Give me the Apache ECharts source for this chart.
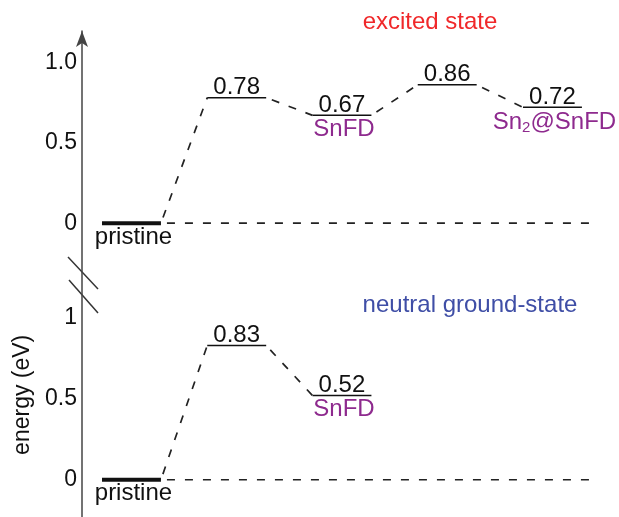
<!DOCTYPE html>
<html>
<head>
<meta charset="utf-8">
<style>
  html, body { margin: 0; padding: 0; background: #fff; }
  #chart { width: 619px; height: 517px; }
</style>
<script src="https://cdn.jsdelivr.net/npm/echarts@6/dist/echarts.min.js"></script>
</head>
<body>
<div id="chart"></div>
<script>
// excited state levels
const excitedPos = [1, 2, 3, 4, 5];
const excitedValues = [0, 0.78, 0.67, 0.86, 0.72];
const excitedNames = ['pristine', '', 'SnFD', '', 'Sn{sub|2}@SnFD'];
// neutral ground-state levels
const groundPos = [1, 2, 3];
const groundValues = [0, 0.83, 0.52];
const groundNames = ['pristine', '', 'SnFD'];
// y tick labels
const topTickValues = [0, 0.5, 1];
const topTickLabels = ['0', '0.5', '1.0'];
const bottomTickValues = [0, 0.5, 1];
const bottomTickLabels = ['0', '0.5', '1'];
// where the dashed zero line stops
const zeroLineEnd = 5.39;

const HW = 0.28; // half width of a level
const FONT = '"Liberation Sans", Arial, sans-serif';
const PURPLE = '#8e2a8e';

function levelSeries(idx, pos, values, names) {
  return {
    type: 'custom',
    xAxisIndex: idx,
    yAxisIndex: idx,
    silent: true,
    data: pos.map((p, i) => [p, values[i], i]),
    renderItem: function (params, api) {
      const x = api.value(0), v = api.value(1), i = api.value(2);
      const a = api.coord([x - HW, v]);
      const b = api.coord([x + HW, v]);
      const cx = (a[0] + b[0]) / 2;
      const first = i === 0;
      const children = [{
        type: 'line',
        shape: { x1: a[0], y1: a[1], x2: b[0], y2: b[1] },
        style: { stroke: '#111', lineWidth: first ? 4 : 1.5 }
      }];
      if (!first) {
        children.push({
          type: 'text', x: cx, y: a[1] + 2,
          style: { text: v.toFixed(2), fill: '#111', fontSize: 24, fontFamily: FONT, align: 'center', verticalAlign: 'bottom' }
        });
      }
      if (names[i]) {
        children.push({
          type: 'text', x: cx + 2, y: a[1] + 2,
          style: {
            text: names[i], fill: first ? '#111' : PURPLE, fontSize: 24, fontFamily: FONT,
            align: 'center', verticalAlign: 'top',
            rich: { sub: { fontSize: 15, fontFamily: FONT, fill: PURPLE, padding: [11, 0, 0, 0] } }
          }
        });
      }
      return { type: 'group', children: children };
    }
  };
}

function connectorSeries(idx, pos, values) {
  const segs = [];
  for (let i = 0; i < pos.length - 1; i++) {
    segs.push([pos[i] + HW, values[i], pos[i + 1] - HW, values[i + 1]]);
  }
  segs.push([pos[0] + HW, values[0], zeroLineEnd, values[0]]);
  return {
    type: 'custom',
    xAxisIndex: idx,
    yAxisIndex: idx,
    silent: true,
    data: segs,
    renderItem: function (params, api) {
      const a = api.coord([api.value(0), api.value(1)]);
      const b = api.coord([api.value(2), api.value(3)]);
      return {
        type: 'line',
        shape: { x1: a[0], y1: a[1], x2: b[0], y2: b[1] },
        style: { stroke: '#222', lineWidth: 1.7, lineDash: [8, 10], lineDashOffset: -6 }
      };
    }
  };
}

function yAxis(idx, min, max, vals, labels, extra) {
  return Object.assign({
    gridIndex: idx,
    type: 'value',
    min: min,
    max: max,
    axisLine: { show: true, lineStyle: { color: '#444', width: 1.5 } },
    axisTick: { show: false },
    splitLine: { show: false },
    axisLabel: {
      customValues: vals,
      formatter: v => labels[vals.indexOf(v)],
      fontSize: 23,
      fontFamily: FONT,
      color: '#111',
      margin: 5
    }
  }, extra);
}

const chart = echarts.init(document.getElementById('chart'));
chart.setOption({
  animation: false,
  grid: [
    { left: 82, top: 31, width: 533.6, height: 240.5 },
    { left: 82, top: 272.6, width: 533.6, height: 244.6 }
  ],
  xAxis: [
    { gridIndex: 0, type: 'value', min: 0.53, max: 5.6, show: false },
    { gridIndex: 1, type: 'value', min: 0.53, max: 5.6, show: false }
  ],
  yAxis: [
    yAxis(0, -0.3, 1.194, topTickValues, topTickLabels, {
      axisLine: { show: true, symbol: ['none', 'arrow'], symbolSize: [9, 16], lineStyle: { color: '#444', width: 1.5 } }
    }),
    yAxis(1, -0.23, 1.28, bottomTickValues, bottomTickLabels, {
      name: 'energy (eV)',
      nameLocation: 'middle',
      nameRotate: 90,
      nameGap: 42,
      nameTextStyle: { fontSize: 23, fontFamily: FONT, color: '#111' }
    })
  ],
  series: [
    connectorSeries(0, excitedPos, excitedValues),
    levelSeries(0, excitedPos, excitedValues, excitedNames),
    connectorSeries(1, groundPos, groundValues),
    levelSeries(1, groundPos, groundValues, groundNames)
  ],
  graphic: [
    { type: 'text', x: 430, y: 22, style: { text: 'excited state', fill: '#f0282a', fontSize: 24, fontFamily: FONT, align: 'center', verticalAlign: 'middle' } },
    { type: 'text', x: 470, y: 305, style: { text: 'neutral ground-state', fill: '#3f4ea6', fontSize: 24, fontFamily: FONT, align: 'center', verticalAlign: 'middle' } },
    // axis break marks
    { type: 'line', shape: { x1: 68, y1: 257, x2: 98, y2: 289 }, style: { stroke: '#333', lineWidth: 1.5 } },
    { type: 'line', shape: { x1: 69, y1: 280, x2: 98, y2: 313 }, style: { stroke: '#333', lineWidth: 1.5 } }
  ]
});
</script>
</body>
</html>
